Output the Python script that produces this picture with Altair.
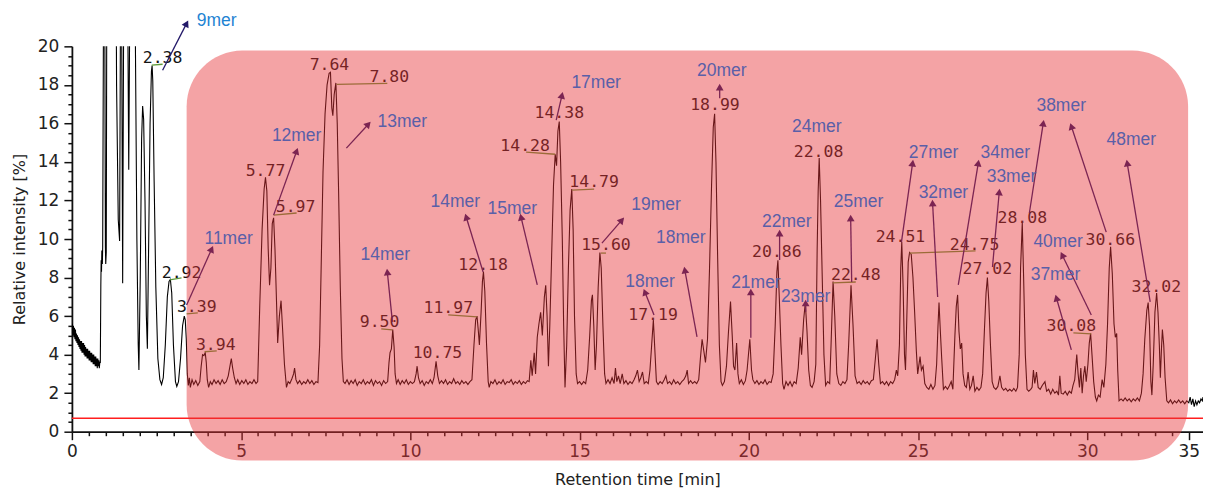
import math
import altair as alt
import pandas as pd

# ---------------- chromatogram trace (retention time [min], relative intensity [%]) ----------------
trace_start = [
    (0.00, 5.1), (0.015, 5.6), (0.03, 5.0), (0.045, 5.5), (0.06, 4.9), (0.075, 5.4), (0.09, 4.8),
    (0.105, 5.3), (0.12, 4.7), (0.135, 5.1), (0.15, 4.6), (0.165, 5.0), (0.18, 4.5), (0.195, 4.9),
    (0.21, 4.4), (0.225, 4.8), (0.24, 4.3), (0.255, 4.7), (0.27, 4.2), (0.285, 4.7), (0.30, 4.1),
    (0.315, 4.6), (0.33, 4.1), (0.345, 4.6), (0.36, 4.0), (0.375, 4.5), (0.39, 3.9), (0.405, 4.4),
    (0.42, 3.9), (0.435, 4.3), (0.45, 3.8), (0.465, 4.3), (0.48, 3.8), (0.495, 4.2), (0.51, 3.7),
    (0.525, 4.2), (0.54, 3.7), (0.555, 4.1), (0.57, 3.6), (0.585, 4.1), (0.60, 3.6), (0.615, 4.0),
    (0.63, 3.5), (0.645, 4.0), (0.66, 3.5), (0.675, 3.9), (0.69, 3.4), (0.705, 3.9), (0.72, 3.4),
    (0.735, 3.8), (0.75, 3.3), (0.765, 3.8), (0.78, 3.4), (0.795, 3.7), (0.81, 3.3), (0.825, 3.6),
]
trace_void = [
    (0.84, 3.6), (0.855, 7.6), (0.865, 8.9), (0.875, 8.3), (0.885, 9.4), (0.90, 8.7), (0.91, 9.6),
    (0.93, 20), (0.95, 30), (0.975, 20), (0.99, 9.6), (1.00, 8.7), (1.015, 9.3), (1.04, 30),
    (1.15, 40), (1.28, 34), (1.32, 18), (1.37, 11), (1.41, 9.9), (1.44, 24), (1.47, 22), (1.50, 7.7),
    (1.53, 22), (1.60, 32), (1.65, 22), (1.68, 13.6), (1.71, 22), (1.78, 32), (1.86, 24), (1.92, 10),
    (1.96, 4.5), (1.98, 3.2), (2.02, 8.0), (2.06, 15.2), (2.09, 16.9), (2.12, 16.2), (2.16, 12.0),
    (2.20, 6.0), (2.23, 4.3), (2.27, 10.0), (2.31, 16.0), (2.35, 18.7), (2.37, 19.0), (2.39, 18.2),
    (2.43, 13.0), (2.48, 7.5), (2.54, 3.8), (2.60, 2.7), (2.65, 2.45), (2.70, 2.8), (2.76, 4.5),
    (2.82, 7.0), (2.87, 7.8), (2.91, 7.9), (2.95, 7.2), (3.00, 4.5), (3.06, 2.6), (3.10, 2.35),
    (3.15, 2.6), (3.21, 3.8), (3.27, 5.5), (3.32, 6.0), (3.35, 5.8), (3.38, 4.8), (3.41, 3.0),
    (3.44, 2.4), (3.47, 2.8),
]
trace_a = [
    (3.50, 2.3), (3.55, 2.7), (3.60, 2.45), (3.66, 2.65), (3.72, 2.4), (3.78, 2.6), (3.82, 3.4),
    (3.86, 4.0), (3.90, 3.95), (3.94, 4.1), (3.97, 3.6), (4.00, 2.7), (4.04, 2.3), (4.09, 2.6),
    (4.14, 2.45), (4.20, 2.7), (4.26, 2.5), (4.32, 2.65), (4.38, 2.45), (4.44, 2.7), (4.50, 2.5),
    (4.56, 2.6), (4.62, 2.9), (4.67, 3.4), (4.71, 3.8), (4.75, 3.3), (4.80, 2.8), (4.85, 2.5),
    (4.90, 2.7), (4.96, 2.45), (5.02, 2.65), (5.08, 2.5), (5.14, 2.7), (5.20, 2.45), (5.26, 2.6),
    (5.32, 2.5), (5.38, 2.7), (5.44, 2.5), (5.49, 2.6), (5.55, 6.5), (5.62, 10.5), (5.68, 12.6),
    (5.72, 13.2), (5.76, 12.5), (5.80, 9.5), (5.84, 7.6), (5.88, 8.5), (5.92, 10.8), (5.96, 11.1),
    (6.00, 9.5), (6.05, 6.5), (6.08, 4.6), (6.13, 6.0), (6.18, 6.8), (6.22, 5.5), (6.28, 3.5),
    (6.34, 2.3), (6.39, 2.6), (6.44, 2.5), (6.50, 2.75), (6.55, 3.0), (6.58, 3.3), (6.62, 2.7),
    (6.67, 2.5), (6.73, 2.65), (6.79, 2.45), (6.85, 2.6), (6.91, 2.5), (6.97, 2.7), (7.03, 2.5),
    (7.09, 2.65), (7.15, 2.45), (7.21, 2.6), (7.27, 2.55), (7.32, 4.5), (7.37, 9.0), (7.42, 13.5),
    (7.48, 16.5), (7.54, 18.0), (7.60, 18.6), (7.64, 18.65), (7.68, 16.8), (7.71, 16.4),
    (7.75, 17.5), (7.80, 18.1), (7.84, 16.0), (7.88, 12.5), (7.93, 7.5), (7.98, 3.8), (8.02, 2.6),
]
trace_b = [
    (8.07, 2.5), (8.13, 2.7), (8.19, 2.45), (8.25, 2.65), (8.31, 2.5), (8.37, 2.7), (8.43, 2.4),
    (8.49, 2.6), (8.55, 2.5), (8.61, 2.7), (8.67, 2.45), (8.73, 2.6), (8.79, 2.5), (8.85, 2.7),
    (8.91, 2.4), (8.97, 2.65), (9.03, 2.5), (9.09, 2.6), (9.15, 2.4), (9.21, 2.65), (9.27, 2.5),
    (9.33, 2.6), (9.37, 3.6), (9.40, 4.1), (9.44, 4.3), (9.48, 5.3), (9.52, 4.4), (9.55, 3.0),
    (9.59, 2.5), (9.64, 2.7), (9.70, 2.45), (9.76, 2.65), (9.82, 2.5), (9.88, 2.7), (9.94, 2.45),
    (10.00, 2.6), (10.06, 2.5), (10.12, 2.6), (10.17, 3.0), (10.20, 3.4), (10.24, 2.8), (10.29, 2.5),
    (10.35, 2.65), (10.41, 2.4), (10.47, 2.6), (10.53, 2.5), (10.59, 2.7), (10.65, 2.5), (10.70, 2.8),
    (10.76, 3.65), (10.81, 2.9), (10.86, 2.5), (10.92, 2.65), (10.98, 2.5), (11.04, 2.7),
    (11.10, 2.45), (11.16, 2.6), (11.22, 2.5), (11.28, 2.75), (11.34, 2.5), (11.40, 2.6),
    (11.46, 2.45), (11.52, 2.65), (11.58, 2.5), (11.64, 2.6), (11.70, 2.45), (11.76, 2.6),
    (11.82, 2.7), (11.88, 4.5), (11.93, 5.8), (11.97, 6.0), (12.01, 5.2), (12.04, 4.5), (12.09, 6.2),
    (12.13, 7.8), (12.16, 8.3), (12.20, 7.3), (12.25, 4.6), (12.30, 2.6), (12.33, 2.3), (12.38, 2.6),
]
trace_c = [
    (12.44, 2.5), (12.50, 2.7), (12.56, 2.45), (12.62, 2.6), (12.68, 2.5), (12.74, 2.7), (12.80, 2.45),
    (12.86, 2.6), (12.92, 2.55), (12.98, 2.7), (13.04, 2.45), (13.10, 2.6), (13.16, 2.5), (13.22, 2.65),
    (13.28, 2.45), (13.34, 2.6), (13.40, 2.5), (13.46, 2.65), (13.51, 2.6), (13.56, 3.7), (13.60, 2.9),
    (13.66, 4.1), (13.70, 3.0), (13.75, 4.9), (13.80, 5.6), (13.85, 6.2), (13.90, 5.0), (13.96, 7.0),
    (14.00, 7.6), (14.04, 6.0), (14.08, 3.4), (14.12, 5.5), (14.18, 9.5), (14.23, 12.8), (14.28, 14.4),
    (14.32, 13.8), (14.36, 15.6), (14.40, 16.1), (14.44, 14.0), (14.49, 10.0), (14.53, 5.5),
    (14.57, 2.3), (14.62, 4.5), (14.67, 8.5), (14.72, 11.5), (14.77, 12.6), (14.81, 10.5), (14.85, 6.0),
    (14.90, 3.0), (14.94, 2.5), (15.00, 2.6), (15.06, 2.45), (15.12, 2.6), (15.18, 2.5), (15.24, 3.2),
    (15.30, 5.0), (15.35, 6.8), (15.38, 7.1), (15.42, 5.5), (15.46, 3.2), (15.50, 4.5), (15.55, 7.5),
    (15.60, 9.3), (15.64, 8.5), (15.69, 5.5), (15.74, 3.0), (15.78, 2.5),
]
trace_d = [
    (15.84, 2.7), (15.90, 2.5), (15.96, 2.8), (16.02, 2.5), (16.06, 3.3), (16.10, 2.6), (16.15, 2.9),
    (16.20, 2.5), (16.26, 3.0), (16.31, 2.5), (16.37, 2.65), (16.43, 2.45), (16.49, 2.6), (16.55, 2.5),
    (16.61, 2.7), (16.66, 2.9), (16.71, 3.2), (16.76, 2.6), (16.81, 2.8), (16.86, 3.1), (16.91, 2.5),
    (16.97, 2.6), (17.03, 2.5), (17.08, 3.2), (17.13, 4.5), (17.18, 5.8), (17.22, 4.4), (17.27, 2.6),
    (17.32, 2.45), (17.38, 2.6), (17.44, 2.5), (17.50, 2.7), (17.55, 2.9), (17.60, 2.5), (17.66, 2.6),
    (17.72, 2.45), (17.78, 2.7), (17.84, 2.5), (17.90, 2.6), (17.96, 2.45), (18.02, 2.6), (18.08, 2.7),
    (18.14, 2.9), (18.18, 3.2), (18.22, 2.5), (18.28, 2.65), (18.34, 2.5), (18.40, 2.6), (18.46, 2.5),
    (18.52, 2.7), (18.57, 3.8), (18.62, 4.8), (18.67, 4.2), (18.72, 3.6), (18.78, 4.8), (18.84, 8.5),
    (18.90, 12.8), (18.95, 15.8), (18.99, 16.5), (19.03, 14.0), (19.08, 9.0), (19.13, 4.5),
    (19.18, 2.6), (19.22, 2.4), (19.28, 2.6),
]
trace_e = [
    (19.34, 3.4), (19.40, 5.2), (19.46, 6.75), (19.51, 5.0), (19.55, 3.4), (19.59, 3.2), (19.64, 4.6),
    (19.68, 3.0), (19.72, 2.5), (19.78, 2.7), (19.84, 2.45), (19.90, 2.65), (19.95, 3.2), (20.03, 4.8),
    (20.08, 3.2), (20.12, 2.7), (20.18, 2.5), (20.24, 2.65), (20.30, 2.45), (20.36, 2.6), (20.42, 2.5),
    (20.48, 2.7), (20.54, 2.45), (20.60, 2.6), (20.66, 2.55), (20.72, 3.0), (20.78, 5.5), (20.83, 8.3),
    (20.86, 8.9), (20.90, 7.0), (20.95, 4.5), (21.00, 2.5), (21.04, 2.2), (21.10, 2.6), (21.16, 2.4),
    (21.22, 2.6), (21.28, 2.35), (21.34, 2.6), (21.40, 2.5), (21.46, 3.3), (21.52, 4.9), (21.56, 4.0),
    (21.62, 5.8), (21.67, 6.7), (21.72, 5.2), (21.77, 3.2), (21.82, 2.4), (21.87, 2.3), (21.93, 2.6),
    (21.98, 3.5), (22.02, 9.5), (22.05, 12.5), (22.08, 14.2), (22.12, 12.0), (22.17, 8.0),
    (22.22, 4.0), (22.27, 2.4),
]
trace_f = [
    (22.33, 2.6), (22.39, 2.5), (22.43, 4.5), (22.49, 7.8), (22.54, 6.0), (22.60, 3.0), (22.66, 2.5),
    (22.72, 2.4), (22.78, 2.6), (22.84, 2.5), (22.90, 2.7), (22.95, 4.5), (23.02, 7.6), (23.08, 5.5),
    (23.14, 2.9), (23.20, 2.5), (23.26, 2.6), (23.32, 2.45), (23.38, 2.65), (23.44, 2.5), (23.50, 2.6),
    (23.56, 2.45), (23.62, 2.65), (23.68, 2.7), (23.74, 3.8), (23.79, 4.8), (23.84, 3.5), (23.89, 2.5),
    (23.95, 2.6), (24.01, 2.45), (24.07, 2.6), (24.13, 2.4), (24.19, 2.6), (24.25, 2.5), (24.31, 2.7),
    (24.36, 3.2), (24.40, 2.9), (24.45, 4.5), (24.49, 8.5), (24.52, 9.85), (24.56, 7.5), (24.60, 4.0),
    (24.63, 3.2), (24.67, 6.0), (24.71, 8.8), (24.75, 9.3), (24.80, 9.2), (24.85, 8.0), (24.90, 6.2),
    (24.95, 4.2), (24.99, 3.0),
]
trace_g = [
    (25.06, 3.9), (25.10, 3.2), (25.15, 3.4), (25.20, 2.5), (25.26, 2.3), (25.32, 2.2), (25.38, 2.45),
    (25.44, 2.2), (25.50, 2.4), (25.55, 3.5), (25.59, 5.5), (25.62, 6.7), (25.66, 5.2), (25.70, 3.8),
    (25.75, 2.2), (25.81, 2.35), (25.87, 2.2), (25.93, 2.4), (25.98, 2.6), (26.03, 2.2), (26.09, 5.0),
    (26.13, 6.5), (26.17, 7.1), (26.21, 5.2), (26.25, 4.3), (26.29, 4.6), (26.33, 3.0), (26.38, 2.4),
    (26.43, 2.3), (26.48, 3.1), (26.53, 2.2), (26.58, 2.4), (26.63, 2.9), (26.68, 2.1), (26.74, 2.3),
    (26.80, 2.15), (26.86, 2.3), (26.91, 3.0), (26.96, 5.2), (27.01, 7.2), (27.05, 8.0), (27.09, 6.8),
    (27.14, 4.5), (27.19, 2.6), (27.24, 2.3), (27.30, 2.2), (27.36, 2.35), (27.42, 2.9), (27.47, 2.3),
    (27.53, 2.15), (27.59, 2.25), (27.65, 2.1), (27.71, 2.2), (27.77, 2.1), (27.83, 2.25),
    (27.89, 2.1), (27.94, 2.3), (27.99, 4.0), (28.03, 8.5), (28.08, 10.85), (28.12, 8.0),
    (28.17, 4.0), (28.22, 2.2), (28.27, 2.1),
]
trace_h = [
    (28.33, 2.2), (28.37, 2.3), (28.41, 3.2), (28.45, 2.5), (28.50, 3.1), (28.55, 2.3), (28.61, 2.2),
    (28.67, 2.4), (28.75, 2.6), (28.80, 2.1), (28.86, 2.2), (28.92, 1.95), (28.98, 2.2), (29.04, 2.0),
    (29.10, 2.1), (29.15, 1.9), (29.19, 2.9), (29.23, 2.0), (29.29, 1.95), (29.35, 2.1), (29.41, 1.9),
    (29.47, 2.1), (29.53, 2.0), (29.58, 2.4), (29.63, 2.7), (29.69, 4.0), (29.73, 3.0), (29.77, 2.3),
    (29.81, 3.3), (29.85, 2.0), (29.89, 2.9), (29.93, 3.4), (29.97, 2.6), (30.02, 3.5), (30.06, 4.6),
    (30.10, 5.1), (30.14, 4.0), (30.19, 2.6), (30.24, 1.8), (30.28, 1.6), (30.33, 1.9), (30.38, 1.8),
    (30.44, 2.7), (30.49, 2.3), (30.55, 3.5), (30.60, 5.6), (30.65, 8.5), (30.69, 9.6), (30.74, 8.2),
    (30.79, 5.6), (30.83, 4.9), (30.87, 5.1), (30.90, 3.2), (30.94, 1.6), (31.00, 1.7), (31.06, 1.6),
    (31.12, 1.75), (31.18, 1.6), (31.24, 1.7), (31.30, 1.55), (31.36, 1.7), (31.42, 1.6),
    (31.48, 1.75), (31.54, 1.6), (31.60, 2.0), (31.65, 3.0), (31.70, 4.8), (31.76, 6.3), (31.80, 6.7),
    (31.84, 5.5), (31.88, 2.6), (31.91, 1.9), (31.95, 3.5), (32.00, 6.2), (32.05, 7.2), (32.09, 6.2),
    (32.13, 4.5), (32.16, 2.8), (32.19, 4.2), (32.22, 5.3), (32.26, 4.5), (32.30, 2.8), (32.35, 1.6),
    (32.40, 1.5), (32.46, 1.65), (32.52, 1.45), (32.58, 1.6), (32.64, 1.5), (32.70, 1.65),
    (32.76, 1.5), (32.82, 1.6), (32.88, 1.45), (32.94, 1.6), (33.00, 1.5), (33.04, 1.8), (33.08, 1.4),
    (33.12, 1.7), (33.16, 1.3), (33.20, 1.6), (33.24, 1.4), (33.28, 1.6), (33.32, 1.5), (33.36, 1.7),
    (33.40, 1.6), (33.42, 1.8),
]

threshold = [0.7]

# peak retention-time labels
peak_labels = ["2.38", "2.92", "3.39", "3.94", "5.77", "5.97", "7.64", "7.80", "9.50", "10.75",
               "11.97", "12.18", "14.28", "14.38", "14.79", "15.60", "17.19", "18.99", "20.86",
               "22.08", "22.48", "24.51", "24.75", "27.02", "28.08", "30.08", "30.66", "32.02"]
peak_label_rt = [2.68, 3.24, 3.69, 4.25, 5.72, 6.61, 7.61, 9.38, 9.09, 10.80,
                 11.12, 12.15, 13.39, 14.40, 15.43, 15.78, 17.17, 19.00, 20.83,
                 22.06, 23.16, 24.48, 26.67, 27.05, 28.08, 29.53, 30.68, 32.04]
peak_label_int = [19.38, 8.24, 6.48, 4.51, 13.52, 11.66, 19.02, 18.39, 5.70, 4.09,
                  6.42, 8.65, 14.82, 16.53, 12.95, 9.69, 6.06, 16.94, 9.33,
                  14.51, 8.13, 10.10, 9.69, 8.45, 11.09, 5.49, 9.95, 7.51]

# leader lines from peaks to their labels
leader_rt = [2.36, 2.89, 3.39, 3.92, 5.96, 7.82, 9.14, 11.12, 13.42, 14.78, 15.63, 22.48, 24.75, 29.59]
leader_int = [19.02, 7.88, 6.11, 4.15, 11.24, 18.03, 5.34, 6.06, 14.51, 12.54, 9.27, 7.72, 9.27, 5.13]
leader_rt2 = [2.68, 3.24, 3.72, 4.28, 6.64, 9.32, 9.47, 11.98, 14.28, 15.43, 15.78, 23.16, 26.70, 30.12]
leader_int2 = [19.07, 7.98, 6.17, 4.20, 11.35, 18.08, 5.28, 5.96, 14.40, 12.59, 9.27, 7.77, 9.38, 5.08]

# oligomer annotations
mer_labels = ["9mer", "11mer", "12mer", "13mer", "14mer", "14mer", "15mer", "17mer", "18mer",
              "18mer", "19mer", "20mer", "21mer", "22mer", "23mer", "24mer", "25mer", "27mer",
              "32mer", "33mer", "34mer", "37mer", "38mer", "40mer", "48mer"]
mer_rt = [4.28, 4.63, 6.64, 9.76, 9.26, 11.33, 13.01, 15.49, 17.08,
          17.99, 17.26, 19.20, 20.21, 21.12, 21.68, 22.01, 23.24, 25.46,
          25.75, 27.76, 27.58, 29.06, 29.23, 29.14, 31.30]
mer_int = [21.33, 10.00, 15.34, 16.06, 9.17, 11.92, 11.55, 18.08, 7.77,
           10.05, 11.76, 18.70, 7.72, 10.88, 6.99, 15.80, 11.92, 14.46,
           12.38, 13.21, 14.46, 8.13, 16.89, 9.84, 15.13]

# arrows: tail -> head
arrow_tail_rt = [2.68, 3.39, 5.96, 8.11, 9.47, 12.15, 13.75, 14.31, 15.66, 17.20, 18.47, 19.14, 20.06,
                 20.91, 21.68, 23.04, 24.51, 25.58, 26.19, 27.20, 28.29, 30.56, 30.12, 29.53, 31.86]
arrow_tail_int = [18.76, 6.58, 11.24, 14.72, 5.70, 8.29, 7.62, 16.17, 9.79, 6.06, 4.92, 17.31, 4.87,
                  8.91, 6.22, 7.77, 9.84, 6.99, 7.62, 8.55, 11.35, 10.36, 6.06, 4.25, 6.74]
arrow_head_rt = [3.39, 4.13, 6.64, 8.76, 9.32, 11.65, 13.27, 14.48, 16.25, 16.93, 18.11, 19.14, 20.06,
                 20.91, 21.68, 23.01, 24.84, 25.43, 26.78, 27.40, 28.70, 29.53, 29.26, 29.09, 31.18]
arrow_head_int = [21.19, 9.48, 14.56, 15.96, 8.29, 11.14, 11.14, 17.46, 10.98, 7.25, 8.39, 17.88, 7.25,
                  10.31, 6.68, 11.09, 13.94, 11.87, 13.94, 12.44, 16.01, 15.85, 9.17, 6.94, 13.94]

# shaded region
region_rt = [3.39, 32.98]
region_int = [-1.50, 19.79]

# ---------------- build ----------------
X_DOMAIN = [0, 33.42]
Y_DOMAIN = [0, 20]
W, H = 1133, 386
px_per_min = W / (X_DOMAIN[1] - X_DOMAIN[0])
px_per_int = H / (Y_DOMAIN[1] - Y_DOMAIN[0])

trace = (trace_start + trace_void + trace_a + trace_b + trace_c + trace_d + trace_e
         + trace_f + trace_g + trace_h)
df_trace = pd.DataFrame(trace, columns=["rt", "intensity"])
df_thr = pd.DataFrame({"intensity": threshold})
df_peaks = pd.DataFrame({"rt": peak_label_rt, "intensity": peak_label_int, "label": peak_labels})
df_lead = pd.DataFrame({"rt": leader_rt, "intensity": leader_int, "rt2": leader_rt2, "intensity2": leader_int2})
df_mer = pd.DataFrame({"rt": mer_rt, "intensity": mer_int, "label": mer_labels})
df_arrow = pd.DataFrame({"rt": arrow_tail_rt, "intensity": arrow_tail_int,
                         "rt2": arrow_head_rt, "intensity2": arrow_head_int})
angles = [math.degrees(math.atan2((h - t) * px_per_min, (hi - ti) * px_per_int)) % 360
          for t, ti, h, hi in zip(arrow_tail_rt, arrow_tail_int, arrow_head_rt, arrow_head_int)]
df_heads = pd.DataFrame({"rt": arrow_head_rt, "intensity": arrow_head_int, "angle": angles})
df_region = pd.DataFrame({"rt": [region_rt[0]], "rt2": [region_rt[1]],
                          "intensity": [region_int[0]], "intensity2": [region_int[1]]})

x_ticks = [i * 0.5 for i in range(67)]
y_ticks = [i * 0.5 for i in range(41)]

x_axis = alt.Axis(
    values=x_ticks,
    labelExpr="datum.value == 33 ? '35' : (datum.value % 5 == 0 ? format(datum.value, 'd') : '')",
    tickSize={"condition": {"test": "datum.value % 5 == 0 || datum.value == 33", "value": 8}, "value": 4},
    domainColor="#111", domainWidth=1.8, tickColor="#111", tickWidth=1.5,
    labelFont="DejaVu Sans", labelFontSize=17, labelColor="#222", labelPadding=4,
    labelFlush=False, labelOverlap=False, grid=False,
    titleFont="DejaVu Sans", titleFontSize=16, titleFontWeight="normal", titleColor="#222",
    titlePadding=12,
)
y_axis = alt.Axis(
    values=y_ticks,
    labelExpr="datum.value % 2 == 0 ? format(datum.value, 'd') : ''",
    tickSize={"condition": {"test": "datum.value % 2 == 0", "value": 8}, "value": 4},
    domainColor="#111", domainWidth=1.8, tickColor="#111", tickWidth=1.5,
    labelFont="DejaVu Sans", labelFontSize=17, labelColor="#222", labelPadding=5,
    labelFlush=False, labelOverlap=False, grid=False,
    titleFont="DejaVu Sans", titleFontSize=16, titleFontWeight="normal", titleColor="#222",
    titlePadding=10,
)
xs = alt.Scale(domain=X_DOMAIN, nice=False, zero=False)
ys = alt.Scale(domain=Y_DOMAIN, nice=False, zero=False)


def X():
    return alt.X("rt:Q", scale=xs, axis=x_axis, title="Retention time [min]")


def Y():
    return alt.Y("intensity:Q", scale=ys, axis=y_axis, title="Relative intensity [%]")


thr_layer = alt.Chart(df_thr).mark_rule(color="#FF1E1E", strokeWidth=1.6).encode(y=Y())
trace_layer = alt.Chart(df_trace).mark_line(color="#000000", strokeWidth=1.1, clip=True).encode(
    x=X(), y=Y(), order="rt:Q")
lead_layer = alt.Chart(df_lead).mark_rule(color="#5E9A3A", strokeWidth=1.3).encode(
    x=X(), y=Y(), x2="rt2:Q", y2="intensity2:Q")
peak_layer = alt.Chart(df_peaks).mark_text(
    font="DejaVu Sans Mono", fontSize=16.5, color="#141414", align="center", baseline="middle"
).encode(x=X(), y=Y(), text="label:N")
shaft_layer = alt.Chart(df_arrow).mark_rule(color="#231969", strokeWidth=1.3).encode(
    x=X(), y=Y(), x2="rt2:Q", y2="intensity2:Q")
head_layer = alt.Chart(df_heads).mark_point(
    shape="triangle-up", filled=True, size=60, color="#231969", opacity=1
).encode(x=X(), y=Y(), angle=alt.Angle("angle:Q", scale=None))
region_layer = alt.Chart(df_region).mark_rect(
    color="#E73338", opacity=0.45, cornerRadius=56
).encode(x=X(), x2="rt2:Q", y=Y(), y2="intensity2:Q")
mer_layer = alt.Chart(df_mer).mark_text(
    font="Liberation Sans", fontSize=17.5, align="center", baseline="middle"
).encode(
    x=X(), y=Y(), text="label:N",
    color=alt.condition(alt.datum.label == "9mer", alt.value("#1F84D3"), alt.value("#5A5FA8")),
)

chart = alt.layer(
    thr_layer, trace_layer, lead_layer, peak_layer, shaft_layer, head_layer, region_layer, mer_layer
).properties(
    width=W, height=H,
    background="white",
    autosize=alt.AutoSizeParams(type="none"),
    padding={"left": 64, "top": 38, "right": 0, "bottom": 64},
).configure_view(stroke=None)

chart.save("out.html", embed_options={"renderer": "svg", "actions": False})
